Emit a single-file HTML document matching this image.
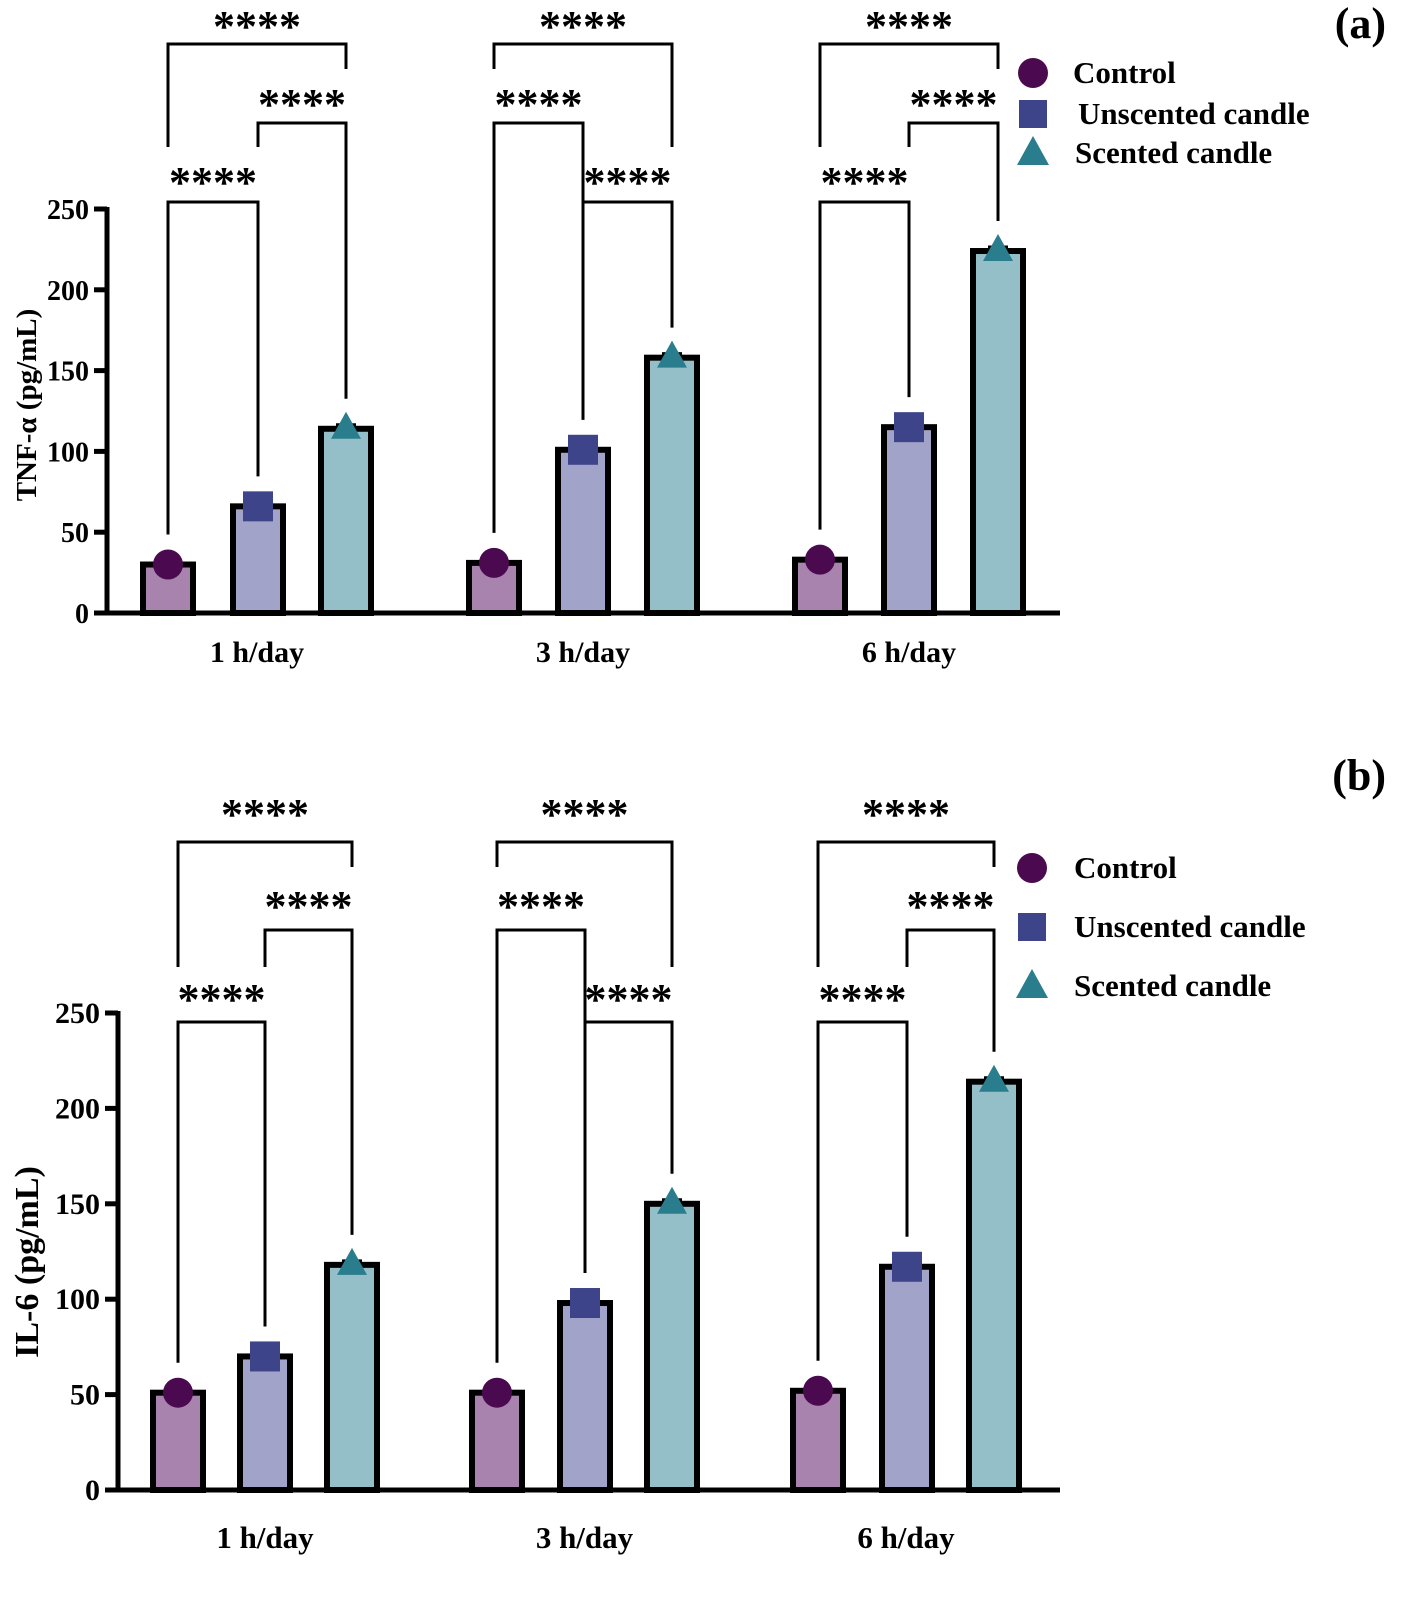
<!DOCTYPE html>
<html><head><meta charset="utf-8"><style>
body{margin:0;background:#fff}
svg{display:block;font-family:"Liberation Serif",serif;font-weight:bold}
</style></head><body>
<svg id="c" width="1418" height="1601" viewBox="0 0 1418 1601"></svg>
<script>
const categories=["1 h/day","3 h/day","6 h/day"];
const seriesNames=["Control","Unscented candle","Scented candle"];
const tnfControl=[30,31,33];
const tnfUnscented=[66,101,115];
const tnfScented=[114,158,224];
const il6Control=[51,51,52];
const il6Unscented=[70,98,117];
const il6Scented=[118,150,214];
const yTicks=[0,50,100,150,200,250];
const sigLabel="****";

const barFill=["#a783ad","#a2a3c9","#94bfc8"];
const markFill=["#4b0a4f","#3d4489","#2a7d8c"];
const NS="http://www.w3.org/2000/svg";
const svg=document.getElementById('c');
function el(tag,attrs,parent){const e=document.createElementNS(NS,tag);for(const k in attrs)e.setAttribute(k,attrs[k]);(parent||svg).appendChild(e);return e;}

function panel(cfg){
  const g=el('g',{});
  
  
  const y=v=>cfg.y0-(v/250)*(cfg.y0-cfg.y250);
  const xc=(gi,si)=>cfg.centers[gi][si];
  const ax=el('path',{d:`M${cfg.axX} ${cfg.y250-2}V${cfg.y0}H${cfg.axEnd}`,stroke:'#000','stroke-width':5,fill:'none'},g);
  
  yTicks.forEach(t=>{
    const l=el('line',{x1:cfg.axX-13,x2:cfg.axX,y1:y(t),y2:y(t),stroke:'#000','stroke-width':5},g);
    
    const tx=el('text',{x:cfg.axX-18,y:y(t)+10,'text-anchor':'end','font-size':cfg.tickFont},g);
    tx.textContent=t;
    
  });
  const yt=el('text',{x:0,y:0,'text-anchor':'middle','font-size':cfg.titleFont,transform:`translate(${cfg.titleX},${cfg.titleY}) rotate(-90)`},g);
  yt.textContent=cfg.title;
  
  const series=cfg.series;
  const markTop=[];
  categories.forEach((c,gi)=>{
    markTop.push([]);
    series.forEach((arr,si)=>{
      const cx=xc(gi,si),v=arr[gi],top=y(v);
      const b=el('rect',{x:cx-25,y:top,width:50,height:cfg.y0-top,fill:barFill[si],stroke:'#000','stroke-width':6},g);
      
      el('line',{x1:cx-10,x2:cx+10,y1:top-4,y2:top-4,stroke:'#000','stroke-width':3},g);
      let m;
      if(si===0)m=el('circle',{cx:cx,cy:top,r:15,fill:markFill[0]},g);
      else if(si===1)m=el('rect',{x:cx-15,y:top-15,width:30,height:30,fill:markFill[1]},g);
      else m=el('path',{d:`M${cx} ${top-17}L${cx+15} ${top+10}L${cx-15} ${top+10}Z`,fill:markFill[2]},g);
      
      markTop[gi].push(top-30);
    });
    const t=el('text',{x:(xc(gi,0)+xc(gi,2))/2,y:cfg.xLabY,'text-anchor':'middle','font-size':cfg.xFont},g);
    t.textContent=c;
    
    const br=cfg.br;
    const drawB=(a,b2,level,endA,endB)=>{
      const by=br[level];
      const p=el('path',{d:`M${xc(gi,a)} ${endA}V${by}H${xc(gi,b2)}V${endB}`,stroke:'#000','stroke-width':3,fill:'none'},g);
      
      const s=el('text',{x:(xc(gi,a)+xc(gi,b2))/2,y:cfg.lab[level]+21,'text-anchor':'middle','font-size':44},g);
      s.textContent=sigLabel;
      
    };
    const mt=markTop[gi];
    if(gi===1){
      drawB(0,2,0,br[0]+25,br[2]-55);
      drawB(0,1,1,mt[0],mt[1]);
      drawB(1,2,2,mt[1],mt[2]);
    }else{
      drawB(0,2,0,br[2]-55,br[0]+25);
      drawB(1,2,1,br[2]-55,mt[2]);
      drawB(0,1,2,mt[0],mt[1]);
    }
  });
  cfg.leg.forEach((ly,i)=>{
    const lg=el('g',{},g);
    
    const lx=cfg.legX;
    if(i===0)el('circle',{cx:lx,cy:ly,r:15,fill:markFill[0]},lg);
    else if(i===1)el('rect',{x:lx-14,y:ly-14,width:28,height:28,fill:markFill[1]},lg);
    else el('path',{d:`M${lx} ${ly-17}L${lx+16} ${ly+12}L${lx-16} ${ly+12}Z`,fill:markFill[2]},lg);
    const t=el('text',{x:lx+cfg.legDx[i],y:ly+10,'font-size':31},lg);
    t.textContent=seriesNames[i];
  });
  const pl=el('text',{x:1386,y:cfg.plY,'text-anchor':'end','font-size':44},g);
  pl.textContent=cfg.pl;
  
}

panel({name:'panel-a',y0:613,y250:209,axX:107,axEnd:1060,title:'TNF-α (pg/mL)',titleX:36,titleY:405,titleFont:29,tickFont:28,
  centers:[[168,258,346],[494,583,672],[820,909,998]],
  series:[tnfControl,tnfUnscented,tnfScented],
  xLabY:662,xFont:30,br:[44,123,202],lab:[20,98,176],
  legX:1033,leg:[73,114,153],legDx:[40,45,42],pl:'(a)',plY:38});
panel({name:'panel-b',y0:1490,y250:1013,axX:118,axEnd:1060,title:'IL-6 (pg/mL)',titleX:38,titleY:1262,titleFont:34,tickFont:30,
  centers:[[178,265,352],[497,585,672],[818,907,994]],
  series:[il6Control,il6Unscented,il6Scented],
  xLabY:1548,xFont:31,br:[842,930,1022],lab:[808,900,993],
  legX:1032,leg:[868,927,986],legDx:[42,42,42],pl:'(b)',plY:790});
</script>
</body></html>
